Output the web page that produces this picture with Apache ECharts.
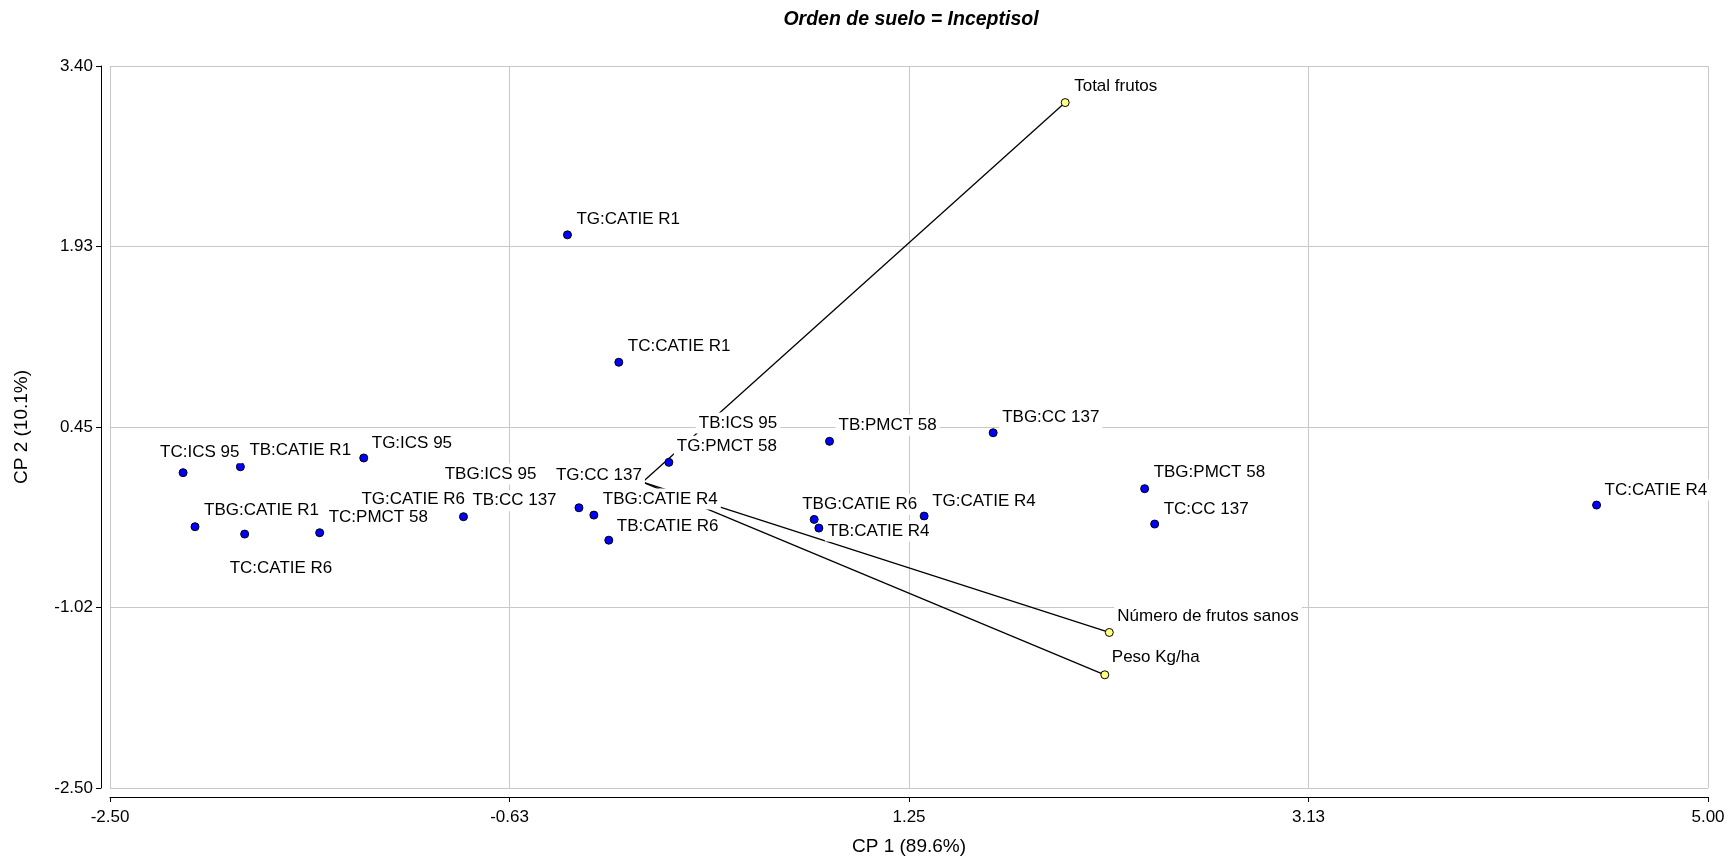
<!DOCTYPE html>
<html>
<head>
<meta charset="utf-8">
<script src="https://cdn.jsdelivr.net/npm/echarts@6/dist/echarts.min.js"></script>
<style>
  html, body { margin: 0; padding: 0; background: #ffffff; }
  #chart { width: 1730px; height: 858px; }
</style>
</head>
<body>
<div id="chart"></div>
<script>
// Biplot of the first two principal components (soil order Inceptisol)

// Treatment:clone observations
const pointNames = [
  'TC:ICS 95', 'TB:CATIE R1', 'TG:ICS 95', 'TBG:CATIE R1', 'TC:CATIE R6', 'TC:PMCT 58',
  'TG:CATIE R6', 'TBG:ICS 95', 'TB:CC 137', 'TG:CC 137', 'TBG:CATIE R4', 'TB:CATIE R6',
  'TG:PMCT 58', 'TB:ICS 95', 'TG:CATIE R1', 'TC:CATIE R1', 'TB:PMCT 58', 'TBG:CC 137',
  'TBG:CATIE R6', 'TB:CATIE R4', 'TG:CATIE R4', 'TBG:PMCT 58', 'TC:CC 137', 'TC:CATIE R4'
];
const pointCP1 = [
  -2.157, -1.888, -1.309, -2.101, -1.868, -1.516,
  -1.362, -0.962, -0.841, -0.299, -0.229, -0.159,
   0.123,  0.221, -0.353, -0.112,  0.877,  1.645,
   0.805,  0.827,  1.321,  2.356,  2.403,  4.477
];
const pointCP2 = [
   0.077,  0.125,  0.197, -0.365, -0.425, -0.414,
  -0.286, -0.131, -0.283, -0.210, -0.270, -0.475,
   0.161,  0.295,  2.020,  0.979,  0.333,  0.403,
  -0.305, -0.376, -0.278, -0.054, -0.343, -0.188
];

// Response variables (vectors drawn from the origin)
const varNames = ['Total frutos', 'Número de frutos sanos', 'Peso Kg/ha'];
const varCP1 = [1.983, 2.190, 2.169];
const varCP2 = [3.101, -1.229, -1.575];

// Axis tick labels
const xTickLabels = ['-2.50', '-0.63', '1.25', '3.13', '5.00'];
const yTickLabels = ['-2.50', '-1.02', '0.45', '1.93', '3.40'];

// Label placement: [dx, dy] in px from marker centre to label's left edge / middle
const pointLabelShift = [
  [-23, -20], [9, -16], [8, -15], [9, -16], [-15, 34], [9, -15],
  [9, -18], [7, -24], [9, -16], [-23, -32], [9, -16], [8, -14],
  [8, -16], [9, -23], [9, -16], [9, -16], [9, -16], [9, -15],
  [-12, -15], [9, 3], [8, -15], [9, -16], [9, -15], [8, -15]
];
const varLabelShift = [[9, -16], [8, -16], [7, -17]];

const FONT = '"Liberation Sans", Arial, sans-serif';
const SYM = 8;
const PAD = [2, 3, 2, 3];

const labelShift = pointLabelShift.concat(varLabelShift);
const labelData = pointNames.map((n, i) => ({ name: n, value: [pointCP1[i], pointCP2[i]] }))
  .concat(varNames.map((n, i) => ({ name: n, value: [varCP1[i], varCP2[i]] })));

const vectorSeries = varNames.map((n, i) => ({
  type: 'line',
  name: n,
  z: 2,
  silent: true,
  symbol: 'none',
  data: [[0, 0], [varCP1[i], varCP2[i]]],
  lineStyle: { color: '#000000', width: 1.3 }
}));

const chart = echarts.init(document.getElementById('chart'), null, { renderer: 'canvas' });

chart.setOption({
  animation: false,
  backgroundColor: '#ffffff',
  title: {
    text: 'Orden de suelo = Inceptisol',
    left: 911,
    top: 10,
    textAlign: 'center',
    padding: 0,
    textStyle: {
      fontFamily: FONT, fontSize: 19.5, fontWeight: 'bold', fontStyle: 'italic', color: '#000000'
    }
  },
  grid: { left: 110, right: 22, top: 66, bottom: 70, containLabel: false, outerBoundsMode: 'none' },
  xAxis: {
    type: 'value',
    min: -2.5, max: 5, interval: 1.875,
    offset: 9,
    name: 'CP 1 (89.6%)',
    nameLocation: 'middle',
    nameGap: 40,
    nameTextStyle: { fontFamily: FONT, fontSize: 19, color: '#000000' },
    axisLine: { show: true, onZero: false, lineStyle: { color: '#000000', width: 1 } },
    axisTick: { show: true, length: 5, lineStyle: { color: '#000000' } },
    axisLabel: {
      fontFamily: FONT, fontSize: 17, color: '#000000', margin: 12,
      formatter: (v, i) => xTickLabels[i]
    },
    splitLine: { show: true, lineStyle: { color: '#c8c8c8', width: 1 } }
  },
  yAxis: {
    type: 'value',
    min: -2.5, max: 3.4, interval: 1.475,
    offset: 9,
    name: 'CP 2 (10.1%)',
    nameLocation: 'middle',
    nameGap: 70,
    nameTextStyle: { fontFamily: FONT, fontSize: 19, color: '#000000' },
    axisLine: { show: true, onZero: false, lineStyle: { color: '#000000', width: 1 } },
    axisTick: { show: true, length: 5, lineStyle: { color: '#000000' } },
    axisLabel: {
      fontFamily: FONT, fontSize: 17, color: '#000000', margin: 8,
      formatter: (v, i) => yTickLabels[i]
    },
    splitLine: { show: true, lineStyle: { color: '#c8c8c8', width: 1 } }
  },
  series: vectorSeries.concat([
    {
      type: 'scatter',
      name: 'observaciones',
      z: 4,
      silent: true,
      symbol: 'circle',
      symbolSize: SYM,
      data: pointNames.map((n, i) => [pointCP1[i], pointCP2[i]]),
      itemStyle: { color: '#0000ff', borderColor: '#000000', borderWidth: 1, opacity: 1 }
    },
    {
      type: 'scatter',
      name: 'variables',
      z: 4,
      silent: true,
      symbol: 'circle',
      symbolSize: SYM,
      data: varNames.map((n, i) => [varCP1[i], varCP2[i]]),
      itemStyle: { color: '#ffff80', borderColor: '#000000', borderWidth: 1, opacity: 1 }
    },
    {
      type: 'scatter',
      name: 'etiquetas',
      z: 6,
      silent: true,
      symbol: 'circle',
      symbolSize: SYM,
      itemStyle: { color: 'rgba(0,0,0,0)', borderWidth: 0, opacity: 1 },
      label: {
        show: true,
        formatter: '{b}',
        position: 'right',
        distance: 0,
        fontFamily: FONT,
        fontSize: 17,
        color: '#000000',
        opacity: 1,
        backgroundColor: '#ffffff',
        padding: PAD,
        align: 'left',
        verticalAlign: 'middle'
      },
      labelLayout: function (params) {
        const s = labelShift[params.dataIndex];
        return { dx: s[0] - SYM / 2 - PAD[3], dy: s[1], hideOverlap: false };
      },
      data: labelData
    }
  ])
});
</script>
</body>
</html>
